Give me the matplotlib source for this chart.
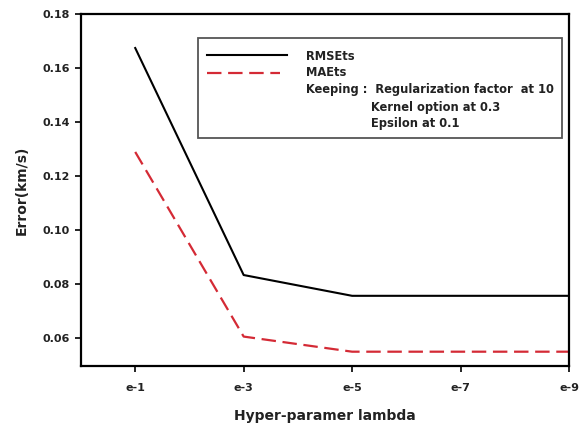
import matplotlib
matplotlib.use("Agg")
import matplotlib.pyplot as plt
from matplotlib.patches import Rectangle
from matplotlib.lines import Line2D

plt.rcParams['font.family'] = ['DejaVu Sans']
plt.rcParams['font.weight'] = 'bold'

categories = ["e-1", "e-3", "e-5", "e-7", "e-9"]
rmse = [0.1674, 0.0833, 0.0756, 0.0756, 0.0756]
mae = [0.1289, 0.0605, 0.0549, 0.0549, 0.0549]
yticks = [0.06, 0.08, 0.10, 0.12, 0.14, 0.16, 0.18]

fig = plt.figure(figsize=(5.85, 4.26), dpi=100)
W, H = 585, 426
ax = fig.add_axes([81 / W, 1 - 366 / H, (569 - 81) / W, (366 - 14) / H])

x = list(range(len(categories)))
red = '#d42a35'
txtc = '#222222'
ax.plot(x, rmse, color='black', lw=1.5)
ax.plot(x, mae, color=red, lw=1.6, dashes=(6.5, 3))

ax.set_xlim(-0.5, 4)
ax.set_ylim(0.0496, 0.18)
ax.set_xticks(x)
ax.set_xticklabels(categories)
ax.set_yticks(yticks)
ax.set_yticklabels([f"{v:.2f}" for v in yticks])
for s in ax.spines.values():
    s.set_linewidth(1.6)
ax.tick_params(axis='both', direction='out', length=4, width=1.2, labelsize=8, pad=4,
               labelcolor=txtc)
ax.tick_params(axis='x', pad=8)
for lab in ax.get_xticklabels() + ax.get_yticklabels():
    lab.set_fontweight('bold')

ax.set_xlabel("Hyper-paramer lambda", fontsize=10, fontweight='bold', labelpad=12, color=txtc)
ax.set_ylabel("Error(km/s)", fontsize=10, fontweight='bold', labelpad=10, color=txtc)

# legend box (figure pixel coords)
def fx(px):
    return px / W
def fy(py):
    return 1 - py / H

fig.patches.append(Rectangle((fx(198), fy(138)), fx(562) - fx(198), fy(38) - fy(138),
                             transform=fig.transFigure, fill=False, ec='#555555', lw=1.3, zorder=5))
fig.lines.append(Line2D([fx(207), fx(287)], [fy(55), fy(55)], transform=fig.transFigure,
                        color='black', lw=1.5))
fig.lines.append(Line2D([fx(207), fx(280)], [fy(73), fy(73)], transform=fig.transFigure,
                        color=red, lw=1.6, dashes=(6.5, 3)))
fs = 8.3
fig.text(fx(306), fy(56), "RMSEts", fontsize=fs, fontweight='bold', va='center', color=txtc)
fig.text(fx(306), fy(73), "MAEts", fontsize=fs, fontweight='bold', va='center', color=txtc)
fig.text(fx(306), fy(90), "Keeping :  Regularization factor  at 10", fontsize=fs, fontweight='bold',
         va='center', color=txtc)
fig.text(fx(371), fy(107), "Kernel option at 0.3", fontsize=fs, fontweight='bold', va='center', color=txtc)
fig.text(fx(371), fy(124), "Epsilon at 0.1", fontsize=fs, fontweight='bold', va='center', color=txtc)

fig.savefig("out.png", dpi=100)
